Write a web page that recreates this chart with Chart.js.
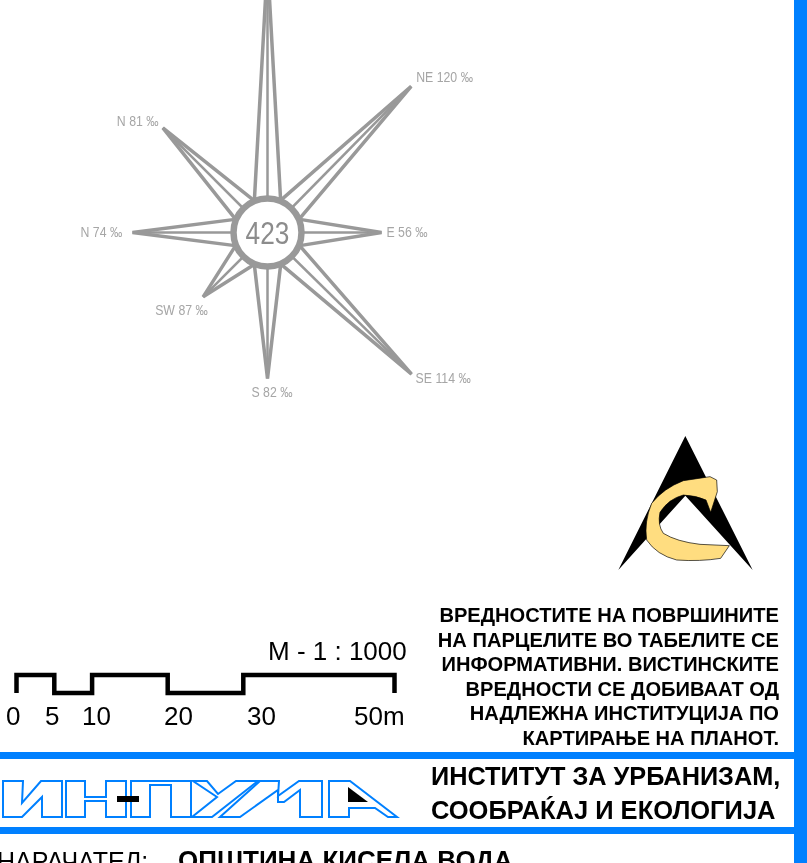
<!DOCTYPE html>
<html>
<head>
<meta charset="utf-8">
<title>Ружа на ветрови</title>
<script src="https://cdn.jsdelivr.net/npm/chart.js@4"></script>
<style>
  html, body { margin: 0; padding: 0; background: #fff; }
  body { width: 807px; height: 863px; overflow: hidden; position: relative; font-family: "Liberation Sans", Arial, sans-serif; }
  #rose { position: absolute; left: 0; top: 0; }
  .bar { position: absolute; background: #0080ff; }
  .t { position: absolute; white-space: nowrap; color: #000; line-height: 1; }
  .b { font-weight: bold; }
  svg { position: absolute; overflow: visible; }
</style>
</head>
<body>
<canvas id="rose" width="807" height="863"></canvas>

<div class="bar" style="left:794px;top:0;width:13px;height:863px"></div>
<div class="bar" style="left:0;top:752px;width:794px;height:7px"></div>
<div class="bar" style="left:0;top:827px;width:794px;height:7px"></div>

<!-- triangle logo -->
<svg style="left:600px;top:425px" width="170" height="155" viewBox="0 0 510 465">
  <polygon points="256,33 458,435 256,212 55,435" fill="#000"/>
  <path d="M330,155 L350,165 L352,200 L332,262 L318,225 Q290,212 250,210 Q205,222 180,262 Q172,300 190,325 Q230,350 300,358 L388,362 L362,400 Q300,410 230,405 Q170,390 140,345 Q132,290 155,235 Q190,190 250,167 Z" fill="#ffdd80" stroke="#000" stroke-width="2"/>
</svg>

<!-- INPUMA logo -->
<svg style="left:0;top:0" width="807" height="863">
  <g fill="none" stroke="#0080ff" stroke-width="2">
    <polygon points="3,781 23,781 22,803 41,781 62,781 62,817 42,817 42,797 22,817 3,817"/>
    <polygon points="66,781 85,781 85,797 106,797 106,781 126,781 126,817 106,817 106,801 85,801 85,817 66,817"/>
    <polygon points="131,781 191,781 191,817 171,817 171,785 150,785 150,817 131,817"/>
    <polygon points="193,781 207,781 218,794 236,781 258,781 212,817 192,817 217,797"/>
    <polygon points="220,817 260,781 279,781 278,796 299,781 322,781 322,817 300,817 300,790 284,802 278,802 278,790 240,817"/>
    <polygon points="329,781 350,781 397,817 388,817 375,808 349,808 349,817 329,817"/>
  </g>
  <rect x="117" y="796" width="22" height="6" fill="#000"/>
  <polygon points="348,787 368,802 348,802" fill="#000"/>
</svg>

<div class="t b" style="right:28px;top:603px;font-size:20.1px;line-height:24.5px;text-align:right">ВРЕДНОСТИТЕ НА ПОВРШИНИТЕ<br>НА ПАРЦЕЛИТЕ ВО ТАБЕЛИТЕ СЕ<br>ИНФОРМАТИВНИ. ВИСТИНСКИТЕ<br>ВРЕДНОСТИ СЕ ДОБИВААТ ОД<br>НАДЛЕЖНА ИНСТИТУЦИЈА ПО<br>КАРТИРАЊЕ НА ПЛАНОТ.</div>
<div class="t b" style="left:431px;top:764px;font-size:25.3px">ИНСТИТУТ ЗА УРБАНИЗАМ,</div>
<div class="t b" style="left:431px;top:798px;font-size:25.5px">СООБРАЌАЈ И ЕКОЛОГИЈА</div>
<div class="t" style="left:-3px;top:849px;font-size:25px">НАРАЧАТЕЛ:</div>
<div class="t b" style="left:178px;top:847px;font-size:26px">ОПШТИНА КИСЕЛА ВОДА</div>

<script>
// wind rose, clockwise from the top ray (its label is cut off in the picture)
var rayNames = ["", "NE", "E", "SE", "S", "SW", "N", "N"];
var rayValues = [null, 120, 56, 114, 82, 87, 74, 81];
var rayAngles = [0, 44.5, 90, 134.5, 180, 225, 270, 315];
// ray lengths, they do not follow the printed values
var rayLengths = [270, 205, 114, 202, 146, 91, 135, 148];
var hubValue = "423";

// scale bar in metres
var barMarks = [0, 5, 10, 20, 30, 50];
var barLabels = ["0", "5", "10", "20", "30", "50m"];
var barTitle = "M - 1 : 1000";

var hubX = 267.5, hubY = 232.5;
var grey = "#999999";

function polar(r, deg) {
  var a = deg * Math.PI / 180;
  return { x: hubX + r * Math.sin(a), y: hubY - r * Math.cos(a) };
}

var datasets = [];
// ring goes first so it is painted over the spokes
datasets.push({
  data: [{ x: hubX, y: hubY }],
  pointRadius: 34, pointHoverRadius: 34,
  pointBorderWidth: 6.5, pointBackgroundColor: "#fff", pointBorderColor: grey
});
rayAngles.forEach(function (deg, i) {
  var tip = polar(rayLengths[i], deg);
  datasets.push({
    data: [polar(35, deg - 22), tip, polar(35, deg + 22)],
    showLine: true, pointRadius: 0, borderColor: grey, borderWidth: 3.5,
    borderJoinStyle: "bevel", tension: 0
  });
  datasets.push({
    data: [{ x: hubX, y: hubY }, tip],
    showLine: true, pointRadius: 0, borderColor: grey, borderWidth: 2.5, tension: 0
  });
});

// stepped scale bar, goes up and down at each mark
var barLow = 693, barHigh = 675;
var barPoints = [{ x: 0, y: barLow }];
barMarks.forEach(function (m, i) {
  if (i == 0) { barPoints.push({ x: m, y: barHigh }); return; }
  var up = i % 2 == 1;
  barPoints.push({ x: m, y: up ? barHigh : barLow });
  if (i < barMarks.length - 1) barPoints.push({ x: m, y: up ? barLow : barHigh });
});
barPoints.push({ x: 50, y: barLow });
datasets.push({
  xAxisID: "metres", data: barPoints,
  showLine: true, pointRadius: 0, borderColor: "#000", borderWidth: 4.5,
  borderJoinStyle: "miter", tension: 0
});

// where each label starts, relative to the tip of its ray
var labelShift = [[0, 0], [5, -4], [5, 4], [4, 9], [-16, 18], [-48, 18], [-52, 4], [-46, -2]];
var barLabelLeft = [6, 45, 82, 164, 247, 354];

// no narrow face is installed, so the regular one gets squeezed
function narrowText(c, text, x, y, squeeze) {
  c.save();
  c.translate(x, y);
  c.scale(squeeze, 1);
  c.fillText(text, 0, 0);
  c.restore();
}

var labelsPlugin = {
  id: "labels",
  afterDatasetsDraw: function (chart) {
    var c = chart.ctx, sx = chart.scales.x, sy = chart.scales.y;
    c.save();
    c.textBaseline = "alphabetic";
    c.fillStyle = "#a6a6a6";
    c.font = '15px "Liberation Sans"';
    rayAngles.forEach(function (deg, i) {
      if (!rayNames[i]) return;
      var tip = polar(rayLengths[i], deg);
      narrowText(c, rayNames[i] + " " + rayValues[i] + " ‰",
        sx.getPixelForValue(tip.x) + labelShift[i][0],
        sy.getPixelForValue(tip.y) + labelShift[i][1], 0.82);
    });
    c.fillStyle = "#8c8c8c";
    c.font = '32px "Liberation Sans"';
    c.textAlign = "center";
    narrowText(c, hubValue, sx.getPixelForValue(hubX), sy.getPixelForValue(hubY) + 11, 0.82);
    c.textAlign = "left";
    c.fillStyle = "#000";
    c.font = '26px "Liberation Sans"';
    barLabels.forEach(function (t, i) {
      c.fillText(t, barLabelLeft[i], 725);
    });
    c.fillText(barTitle, 268, 660);
    c.restore();
  }
};

new Chart(document.getElementById("rose"), {
  type: "scatter",
  data: { datasets: datasets },
  plugins: [labelsPlugin],
  options: {
    responsive: false,
    animation: false,
    events: [],
    layout: { padding: 0, autoPadding: false },
    plugins: { legend: { display: false }, tooltip: { enabled: false } },
    scales: {
      x: { type: "linear", display: false, min: 0, max: 807 },
      y: { type: "linear", display: false, min: 0, max: 863, reverse: true },
      // 7.56 px to the metre, 0 m sits at x = 16.5
      metres: { type: "linear", axis: "x", display: false, min: -16.5 / 7.56, max: (807 - 16.5) / 7.56 }
    }
  }
});
</script>
</body>
</html>
